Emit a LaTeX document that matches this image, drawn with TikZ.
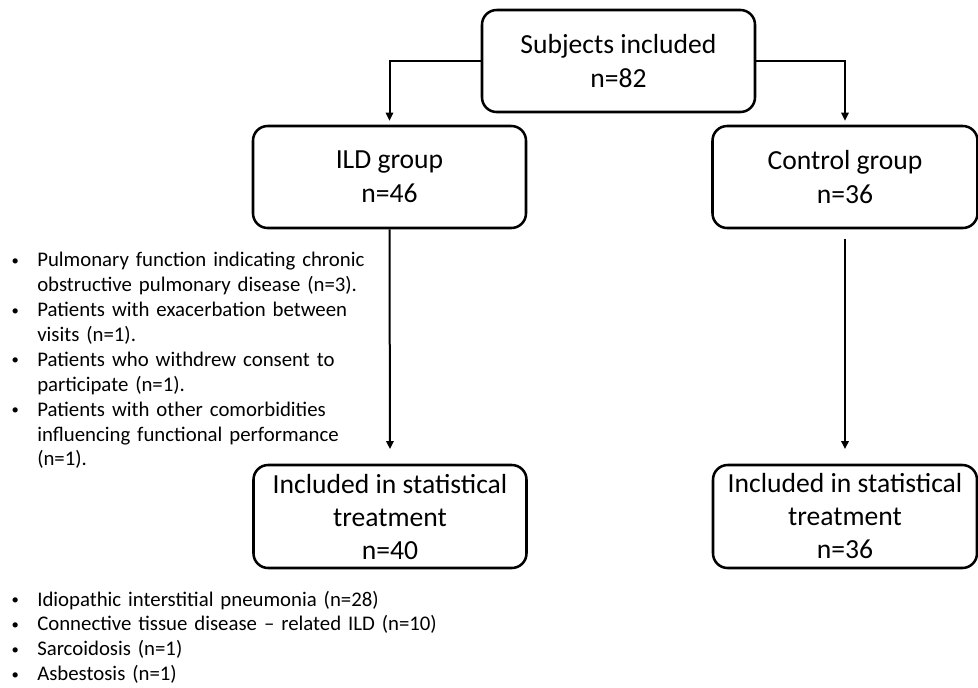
\documentclass[tikz,border=0pt]{standalone}
\usepackage{fontspec}
\setmainfont{Carlito}
\usetikzlibrary{arrows.meta,calc}
\newcommand{\boxfont}{\fontsize{20.7}{25.2}\selectfont}
\newcommand{\listfont}{\fontsize{15.6}{18.7}\selectfont}
\newcommand{\bulletitem}[1]{\hangindent=20.25pt\hangafter=1\noindent
  \makebox[20.25pt][l]{\hspace{1pt}\raisebox{1pt}{\fontsize{11}{11}\selectfont\textbullet}}#1\par}
\tikzset{
  flowbox/.style={
    rectangle, rounded corners=11pt, draw=black, fill=white, line width=1.9pt,
    minimum width=204.75pt, minimum height=76.5pt, align=center,
    font=\boxfont, inner sep=0pt
  },
  arrow/.style={-{Triangle[length=6pt,width=5.5pt]}, line width=1.5pt, draw=black},
  notelist/.style={anchor=base west, inner sep=0pt, text width=450pt,
    font=\listfont\raggedright}
}

\begin{document}
\begin{tikzpicture}[x=0.75pt,y=-0.75pt]
  \useasboundingbox (0,0) rectangle (978,687);
  \node[flowbox] (subj) at (618.5,61) {Subjects included\\n=82};
  \node[flowbox] (ild) at (389.5,177) {ILD group\\n=46};
  \node[flowbox, minimum width=198.75pt] (ctrl) at (845,177) {Control group\\n=36};
  \node[flowbox, minimum height=77.25pt, font=\fontsize{20.7}{24.75}\selectfont]
    (ildst) at (390,516.5) {Included in statistical\\treatment\\n=40};
  \node[flowbox, minimum width=198pt, minimum height=77.25pt,
    font=\fontsize{20.7}{24.75}\selectfont]
    (ctrlst) at (845,516.5) {Included in statistical\\treatment\\n=36};

  \node[notelist] (excl) at (10,266.5) {%
    \bulletitem{Pulmonary function indicating chronic\newline obstructive pulmonary disease (n=3).}
    \bulletitem{Patients with exacerbation between\newline visits (n=1).}
    \bulletitem{Patients who withdrew consent to\newline participate (n=1).}
    \bulletitem{Patients with other comorbidities\newline influencing functional performance\newline (n=1).}};
  \node[notelist] (diag) at (10,606) {%
    \bulletitem{Idiopathic interstitial pneumonia (n=28)}
    \bulletitem{Connective tissue disease -- related ILD (n=10)}
    \bulletitem{Sarcoidosis (n=1)}
    \bulletitem{Asbestosis (n=1)}};

  \draw[arrow, shorten >=3pt] (subj.west) -| (ild.north);
  \draw[arrow, shorten >=3pt] (subj.east) -| (ctrl.north);
  \draw[arrow, shorten >=11pt] (ild.south) -- (ildst.north);
  \draw[arrow, shorten <=7pt, shorten >=11pt] (ctrl.south) -- (ctrlst.north);
\end{tikzpicture}
\end{document}
